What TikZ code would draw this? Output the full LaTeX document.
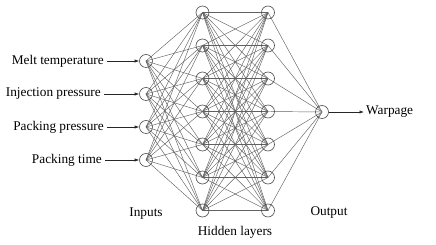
\documentclass[tikz,border=0pt]{standalone}
\usepackage{fontspec}
\setmainfont{Liberation Serif}
\usetikzlibrary{arrows.meta,backgrounds}
\begin{document}
\begin{tikzpicture}[x=1pt,y=-1pt,
  neuron/.style={draw=black!70,line width=0.6pt,circle,minimum size=13pt,inner sep=0pt},
  conn/.style={draw=black!62,line width=0.45pt},
  lbl/.style={inner sep=0pt,font=\fontsize{13.3}{15}\selectfont},
  inarrow/.style={draw=black!85,line width=0.6pt,-{Latex[length=4.5pt,width=3.2pt]}}]
\useasboundingbox (0,0) rectangle (436,245);
% input nodes
\foreach \i/\y in {1/61,2/94,3/127,4/160}
  \node[neuron] (i\i) at (146,\y) {};
% hidden layers
\foreach \j in {1,...,7}{
  \node[neuron] (a\j) at (202.5,{12.5+33*(\j-1)}) {};
  \node[neuron] (b\j) at (268,{12.5+33*(\j-1)}) {};
}
% output
\node[neuron] (o) at (322,112) {};
% connectors
\begin{pgfonlayer}{background}
\foreach \i in {1,...,4}
  \foreach \j in {1,...,7}
    \draw[conn] (i\i.center) -- (a\j.center);
\foreach \j in {1,...,7}
  \foreach \k in {1,...,7}
    \draw[conn] (a\j.center) -- (b\k.center);
\foreach \k in {1,...,7}
  \draw[conn] (b\k.center) -- (o.center);
\end{pgfonlayer}
% input labels
\node[lbl,anchor=east] (l1) at (104,61) {Melt temperature};
\node[lbl,anchor=east] (l2) at (101,94) {Injection pressure};
\node[lbl,anchor=east] (l3) at (104,127) {Packing pressure};
\node[lbl,anchor=east] (l4) at (102,160) {Packing time};
\foreach \i in {1,...,4}
  \draw[inarrow,shorten <=3pt] (l\i.east) -- (i\i.west);
% output label
\node[lbl,anchor=west] (w) at (366,112) {Warpage};
\draw[inarrow,shorten >=2pt] (o.east) -- (w.west);
% layer captions
\node[lbl] (inp) at (146,214) {Inputs};
\node[lbl] (hid) at (235,232) {Hidden layers};
\node[lbl] (out) at (329,213) {Output};
\end{tikzpicture}
\end{document}
